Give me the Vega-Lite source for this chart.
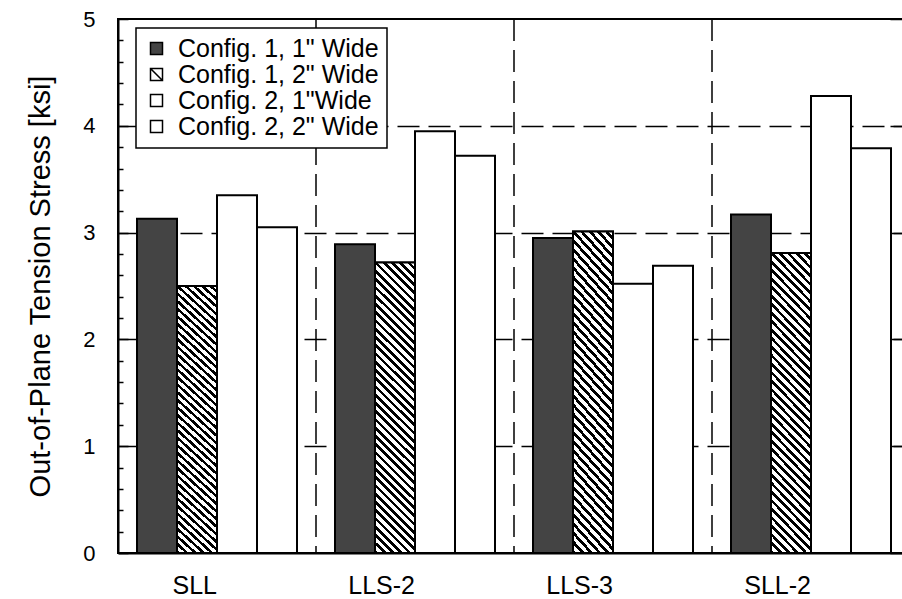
{
  "$schema": "https://vega.github.io/schema/vega-lite/v6.json",
  "width": 792,
  "height": 534,
  "autosize": {"type": "none"},
  "padding": {"left": 118, "top": 19, "right": -8, "bottom": 46},
  "background": "white",
  "config": {
    "font": "Liberation Sans",
    "view": {"stroke": "black", "strokeWidth": 2},
    "axis": {"domainColor": "black", "domainWidth": 2, "tickColor": "black", "labelColor": "black", "titleColor": "black", "labelFont": "Liberation Sans", "titleFont": "Liberation Sans"},
    "legend": {"strokeWidth": 1.5}
  },
  "datasets": {
    "stress": [
      {"group": "SLL", "config": "Config. 1, 1\" Wide", "stress": 3.13},
      {"group": "SLL", "config": "Config. 1, 2\" Wide", "stress": 2.50},
      {"group": "SLL", "config": "Config. 2, 1\"Wide", "stress": 3.35},
      {"group": "SLL", "config": "Config. 2, 2\" Wide", "stress": 3.05},
      {"group": "LLS-2", "config": "Config. 1, 1\" Wide", "stress": 2.89},
      {"group": "LLS-2", "config": "Config. 1, 2\" Wide", "stress": 2.72},
      {"group": "LLS-2", "config": "Config. 2, 1\"Wide", "stress": 3.95},
      {"group": "LLS-2", "config": "Config. 2, 2\" Wide", "stress": 3.72},
      {"group": "LLS-3", "config": "Config. 1, 1\" Wide", "stress": 2.95},
      {"group": "LLS-3", "config": "Config. 1, 2\" Wide", "stress": 3.01},
      {"group": "LLS-3", "config": "Config. 2, 1\"Wide", "stress": 2.52},
      {"group": "LLS-3", "config": "Config. 2, 2\" Wide", "stress": 2.69},
      {"group": "SLL-2", "config": "Config. 1, 1\" Wide", "stress": 3.17},
      {"group": "SLL-2", "config": "Config. 1, 2\" Wide", "stress": 2.81},
      {"group": "SLL-2", "config": "Config. 2, 1\"Wide", "stress": 4.28},
      {"group": "SLL-2", "config": "Config. 2, 2\" Wide", "stress": 3.79}
    ],
    "groups": [{"group": "LLS-2"}, {"group": "LLS-3"}, {"group": "SLL-2"}]
  },
  "resolve": {"axis": {"y": "independent"}},
  "layer": [
    {
      "data": {"name": "groups"},
      "mark": {"type": "rule", "stroke": "black", "strokeWidth": 1.5, "strokeDash": [22, 9]},
      "encoding": {
        "x": {"field": "group", "type": "nominal", "bandPosition": 0, "scale": {"domain": ["SLL", "LLS-2", "LLS-3", "SLL-2"], "paddingInner": 0, "paddingOuter": 0}}
      }
    },
    {
      "data": {"name": "stress"},
      "mark": {"type": "bar", "stroke": "black", "strokeWidth": 2},
      "encoding": {
        "x": {"field": "group", "type": "nominal", "scale": {"domain": ["SLL", "LLS-2", "LLS-3", "SLL-2"], "paddingInner": 0, "paddingOuter": 0},
          "axis": {"title": null, "labelFontSize": 25, "labelAngle": 0, "labelPadding": 32, "ticks": false}},
        "xOffset": {"field": "config", "type": "nominal", "scale": {"domain": ["Config. 1, 1\" Wide", "Config. 1, 2\" Wide", "Config. 2, 1\"Wide", "Config. 2, 2\" Wide"], "paddingInner": 0, "paddingOuter": 0.475}},
        "y": {"field": "stress", "type": "quantitative", "scale": {"domain": [0, 5], "nice": false},
          "axis": {
            "orient": "left",
            "title": "Out-of-Plane Tension Stress [ksi]",
            "titleFontSize": 29, "titleFontWeight": "normal",
            "titleX": -78, "titleY": 267, "titleAngle": -90, "titleAlign": "center", "titleBaseline": "middle",
            "values": [0, 0.2, 0.4, 0.6, 0.8, 1, 1.2, 1.4, 1.6, 1.8, 2, 2.2, 2.4, 2.6, 2.8, 3, 3.2, 3.4, 3.6, 3.8, 4, 4.2, 4.4, 4.6, 4.8, 5],
            "labelExpr": "abs(datum.value - round(datum.value)) < 0.01 ? format(datum.value, 'd') : ''",
            "labelOverlap": false, "labelFlush": false,
            "labelFontSize": 22, "labelPadding": 33,
            "tickSize": {"condition": {"test": "abs(datum.value - round(datum.value)) < 0.01", "value": -10}, "value": -5},
            "tickWidth": 1.5,
            "grid": true, "gridColor": "black", "gridWidth": 1.5, "gridDash": [22, 9],
            "gridOpacity": {"condition": {"test": "datum.value > 0.5 && datum.value < 4.5 && abs(datum.value - round(datum.value)) < 0.01", "value": 1}, "value": 0}
          }},
        "fill": {"field": "config", "type": "nominal",
          "scale": {"domain": ["Config. 1, 1\" Wide", "Config. 1, 2\" Wide", "Config. 2, 1\"Wide", "Config. 2, 2\" Wide"], "range": ["#444444", "#ffffff", "#ffffff", "#ffffff"]},
          "legend": {
            "title": null, "orient": "none", "legendX": 18, "legendY": 9, "padding": 8,
            "strokeColor": "black", "fillColor": "white",
            "symbolType": "square", "symbolSize": 144, "symbolStrokeColor": "black", "symbolStrokeWidth": 1.5,
            "labelFontSize": 25, "labelColor": "black", "labelOffset": 9, "labelLimit": 400, "rowPadding": 0,
            "encode": {"symbols": {"update": {"shape": {"signal": "indexof(datum.value, '1, 2') >= 0 ? 'M-1,-1H1V1H-1Z M-1,-1L1,1' : 'square'"}}}}
          }}
      }
    },
    {
      "data": {"name": "stress"},
      "transform": [{"filter": "indexof(datum.config, '1, 2') >= 0"}],
      "mark": {"type": "bar", "stroke": "black", "strokeWidth": 2,
        "fill": {"gradient": "linear", "x1": 0, "y1": 1, "x2": 0.1529, "y2": -0.116, "stops": [
          {"offset": 0, "color": "#000"}, {"offset": 0.0113, "color": "#000"}, {"offset": 0.0113, "color": "#fff"}, {"offset": 0.025, "color": "#fff"},
          {"offset": 0.025, "color": "#000"}, {"offset": 0.0363, "color": "#000"}, {"offset": 0.0363, "color": "#fff"}, {"offset": 0.05, "color": "#fff"},
          {"offset": 0.05, "color": "#000"}, {"offset": 0.0613, "color": "#000"}, {"offset": 0.0613, "color": "#fff"}, {"offset": 0.075, "color": "#fff"},
          {"offset": 0.075, "color": "#000"}, {"offset": 0.0863, "color": "#000"}, {"offset": 0.0863, "color": "#fff"}, {"offset": 0.1, "color": "#fff"},
          {"offset": 0.1, "color": "#000"}, {"offset": 0.1113, "color": "#000"}, {"offset": 0.1113, "color": "#fff"}, {"offset": 0.125, "color": "#fff"},
          {"offset": 0.125, "color": "#000"}, {"offset": 0.1363, "color": "#000"}, {"offset": 0.1363, "color": "#fff"}, {"offset": 0.15, "color": "#fff"},
          {"offset": 0.15, "color": "#000"}, {"offset": 0.1613, "color": "#000"}, {"offset": 0.1613, "color": "#fff"}, {"offset": 0.175, "color": "#fff"},
          {"offset": 0.175, "color": "#000"}, {"offset": 0.1863, "color": "#000"}, {"offset": 0.1863, "color": "#fff"}, {"offset": 0.2, "color": "#fff"},
          {"offset": 0.2, "color": "#000"}, {"offset": 0.2113, "color": "#000"}, {"offset": 0.2113, "color": "#fff"}, {"offset": 0.225, "color": "#fff"},
          {"offset": 0.225, "color": "#000"}, {"offset": 0.2363, "color": "#000"}, {"offset": 0.2363, "color": "#fff"}, {"offset": 0.25, "color": "#fff"},
          {"offset": 0.25, "color": "#000"}, {"offset": 0.2613, "color": "#000"}, {"offset": 0.2613, "color": "#fff"}, {"offset": 0.275, "color": "#fff"},
          {"offset": 0.275, "color": "#000"}, {"offset": 0.2863, "color": "#000"}, {"offset": 0.2863, "color": "#fff"}, {"offset": 0.3, "color": "#fff"},
          {"offset": 0.3, "color": "#000"}, {"offset": 0.3113, "color": "#000"}, {"offset": 0.3113, "color": "#fff"}, {"offset": 0.325, "color": "#fff"},
          {"offset": 0.325, "color": "#000"}, {"offset": 0.3363, "color": "#000"}, {"offset": 0.3363, "color": "#fff"}, {"offset": 0.35, "color": "#fff"},
          {"offset": 0.35, "color": "#000"}, {"offset": 0.3613, "color": "#000"}, {"offset": 0.3613, "color": "#fff"}, {"offset": 0.375, "color": "#fff"},
          {"offset": 0.375, "color": "#000"}, {"offset": 0.3863, "color": "#000"}, {"offset": 0.3863, "color": "#fff"}, {"offset": 0.4, "color": "#fff"},
          {"offset": 0.4, "color": "#000"}, {"offset": 0.4113, "color": "#000"}, {"offset": 0.4113, "color": "#fff"}, {"offset": 0.425, "color": "#fff"},
          {"offset": 0.425, "color": "#000"}, {"offset": 0.4363, "color": "#000"}, {"offset": 0.4363, "color": "#fff"}, {"offset": 0.45, "color": "#fff"},
          {"offset": 0.45, "color": "#000"}, {"offset": 0.4613, "color": "#000"}, {"offset": 0.4613, "color": "#fff"}, {"offset": 0.475, "color": "#fff"},
          {"offset": 0.475, "color": "#000"}, {"offset": 0.4863, "color": "#000"}, {"offset": 0.4863, "color": "#fff"}, {"offset": 0.5, "color": "#fff"},
          {"offset": 0.5, "color": "#000"}, {"offset": 0.5113, "color": "#000"}, {"offset": 0.5113, "color": "#fff"}, {"offset": 0.525, "color": "#fff"},
          {"offset": 0.525, "color": "#000"}, {"offset": 0.5363, "color": "#000"}, {"offset": 0.5363, "color": "#fff"}, {"offset": 0.55, "color": "#fff"},
          {"offset": 0.55, "color": "#000"}, {"offset": 0.5613, "color": "#000"}, {"offset": 0.5613, "color": "#fff"}, {"offset": 0.575, "color": "#fff"},
          {"offset": 0.575, "color": "#000"}, {"offset": 0.5863, "color": "#000"}, {"offset": 0.5863, "color": "#fff"}, {"offset": 0.6, "color": "#fff"},
          {"offset": 0.6, "color": "#000"}, {"offset": 0.6113, "color": "#000"}, {"offset": 0.6113, "color": "#fff"}, {"offset": 0.625, "color": "#fff"},
          {"offset": 0.625, "color": "#000"}, {"offset": 0.6363, "color": "#000"}, {"offset": 0.6363, "color": "#fff"}, {"offset": 0.65, "color": "#fff"},
          {"offset": 0.65, "color": "#000"}, {"offset": 0.6613, "color": "#000"}, {"offset": 0.6613, "color": "#fff"}, {"offset": 0.675, "color": "#fff"},
          {"offset": 0.675, "color": "#000"}, {"offset": 0.6863, "color": "#000"}, {"offset": 0.6863, "color": "#fff"}, {"offset": 0.7, "color": "#fff"},
          {"offset": 0.7, "color": "#000"}, {"offset": 0.7113, "color": "#000"}, {"offset": 0.7113, "color": "#fff"}, {"offset": 0.725, "color": "#fff"},
          {"offset": 0.725, "color": "#000"}, {"offset": 0.7363, "color": "#000"}, {"offset": 0.7363, "color": "#fff"}, {"offset": 0.75, "color": "#fff"},
          {"offset": 0.75, "color": "#000"}, {"offset": 0.7613, "color": "#000"}, {"offset": 0.7613, "color": "#fff"}, {"offset": 0.775, "color": "#fff"},
          {"offset": 0.775, "color": "#000"}, {"offset": 0.7863, "color": "#000"}, {"offset": 0.7863, "color": "#fff"}, {"offset": 0.8, "color": "#fff"},
          {"offset": 0.8, "color": "#000"}, {"offset": 0.8113, "color": "#000"}, {"offset": 0.8113, "color": "#fff"}, {"offset": 0.825, "color": "#fff"},
          {"offset": 0.825, "color": "#000"}, {"offset": 0.8363, "color": "#000"}, {"offset": 0.8363, "color": "#fff"}, {"offset": 0.85, "color": "#fff"},
          {"offset": 0.85, "color": "#000"}, {"offset": 0.8613, "color": "#000"}, {"offset": 0.8613, "color": "#fff"}, {"offset": 0.875, "color": "#fff"},
          {"offset": 0.875, "color": "#000"}, {"offset": 0.8863, "color": "#000"}, {"offset": 0.8863, "color": "#fff"}, {"offset": 0.9, "color": "#fff"},
          {"offset": 0.9, "color": "#000"}, {"offset": 0.9113, "color": "#000"}, {"offset": 0.9113, "color": "#fff"}, {"offset": 0.925, "color": "#fff"},
          {"offset": 0.925, "color": "#000"}, {"offset": 0.9363, "color": "#000"}, {"offset": 0.9363, "color": "#fff"}, {"offset": 0.95, "color": "#fff"},
          {"offset": 0.95, "color": "#000"}, {"offset": 0.9613, "color": "#000"}, {"offset": 0.9613, "color": "#fff"}, {"offset": 0.975, "color": "#fff"},
          {"offset": 0.975, "color": "#000"}, {"offset": 0.9863, "color": "#000"}, {"offset": 0.9863, "color": "#fff"}, {"offset": 1, "color": "#fff"}
        ]}},
      "encoding": {
        "x": {"field": "group", "type": "nominal", "scale": {"domain": ["SLL", "LLS-2", "LLS-3", "SLL-2"], "paddingInner": 0, "paddingOuter": 0}},
        "xOffset": {"field": "config", "type": "nominal", "scale": {"domain": ["Config. 1, 1\" Wide", "Config. 1, 2\" Wide", "Config. 2, 1\"Wide", "Config. 2, 2\" Wide"], "paddingInner": 0, "paddingOuter": 0.475}},
        "y": {"field": "stress", "type": "quantitative", "scale": {"domain": [0, 5], "nice": false},
          "axis": {"orient": "right", "title": null, "labels": false, "grid": false, "values": [0, 1, 2, 3, 4, 5], "tickSize": -20, "tickWidth": 1.5}}
      }
    }
  ]
}
